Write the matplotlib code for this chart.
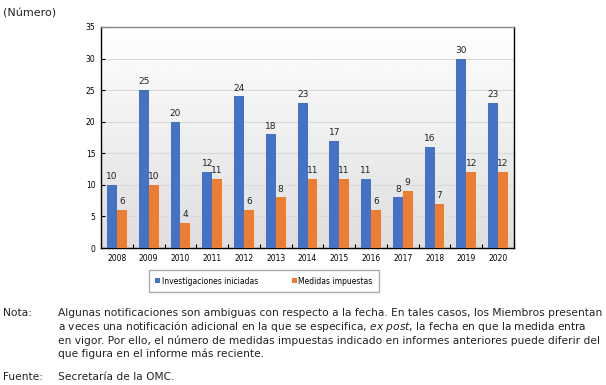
import numpy as np
import matplotlib
matplotlib.use("Agg")
import matplotlib.pyplot as plt

years = ["2008", "2009", "2010", "2011", "2012", "2013", "2014",
         "2015", "2016", "2017", "2018", "2019", "2020"]
investigaciones = [10, 25, 20, 12, 24, 18, 23, 17, 11, 8, 16, 30, 23]
medidas = [6, 10, 4, 11, 6, 8, 11, 11, 6, 9, 7, 12, 12]

blue = "#4472C4"
orange = "#ED7D31"

plt.rcParams["font.family"] = "DejaVu Sans"

fig = plt.figure(figsize=(6.06, 3.85), dpi=100)
ax = fig.add_axes([101 / 606, 1 - 248 / 385, 413 / 606, 221 / 385])

# fondo degradado
grad = np.linspace(1.0, 0.87, 256).reshape(-1, 1)
ax.imshow(grad, cmap="gray", vmin=0, vmax=1, aspect="auto",
          extent=[-0.5, len(years) - 0.5, 0, 35], zorder=0)

x = np.arange(len(years))
w = 0.31
b1 = ax.bar(x - w / 2, investigaciones, w, color=blue, zorder=3,
            label="Investigaciones iniciadas")
b2 = ax.bar(x + w / 2, medidas, w, color=orange, zorder=3,
            label="Medidas impuestas")

for rect, v in zip(b1, investigaciones):
    ax.text(rect.get_x() + rect.get_width() / 2, v + 0.6, str(v),
            ha="center", va="bottom", fontsize=6.5, color="#222222")
for rect, v in zip(b2, medidas):
    ax.text(rect.get_x() + rect.get_width() / 2, v + 0.6, str(v),
            ha="center", va="bottom", fontsize=6.5, color="#222222")

ax.set_xlim(-0.5, len(years) - 0.5)
ax.set_ylim(0, 35)
ax.set_yticks(range(0, 36, 5))
ax.set_xticks(np.arange(-0.5, len(years), 1), minor=False)
ax.set_xticklabels([])
ax.set_xticks(x, minor=True)
ax.set_xticklabels(years, minor=True)
ax.tick_params(axis="x", which="minor", length=0, labelsize=5.5, pad=4)
ax.tick_params(axis="x", which="major", length=3, direction="in")
ax.tick_params(axis="y", labelsize=5.5, length=3, direction="in", pad=4)
ax.yaxis.grid(True, color="#d9d9d9", linewidth=0.8, zorder=1)
ax.set_axisbelow(True)
for s in ax.spines.values():
    s.set_color("black")
    s.set_linewidth(1.0)
ax.spines["top"].set_color("#888888")

leg = fig.legend(handles=[b1, b2], loc="center",
                 bbox_to_anchor=(264 / 606, 1 - 281 / 385), ncol=2,
                 fontsize=5.5, frameon=True, fancybox=False,
                 handlelength=0.6, handleheight=0.6, handletextpad=0.2,
                 columnspacing=4.5, borderpad=0.9)
leg.get_frame().set_edgecolor("#999999")
leg.get_frame().set_linewidth(1.0)

fig.text(3 / 606, 1 - 8 / 385, "(Número)", fontsize=8, va="top", color="#222222")

note_lines = [
    "Algunas notificaciones son ambiguas con respecto a la fecha. En tales casos, los Miembros presentan",
    "a veces una notificación adicional en la que se especifica, $\\it{ex\\ post}$, la fecha en que la medida entra",
    "en vigor. Por ello, el número de medidas impuestas indicado en informes anteriores puede diferir del",
    "que figura en el informe más reciente.",
]
fs = 7.7
fig.text(3 / 606, 1 - 313 / 385, "Nota:", fontsize=fs, va="center", color="#222222")
for i, line in enumerate(note_lines):
    fig.text(58 / 606, 1 - (313 + i * 13.7) / 385, line, fontsize=fs,
             va="center", color="#222222")
fig.text(3 / 606, 1 - 377 / 385, "Fuente:", fontsize=fs, va="center", color="#222222")
fig.text(58 / 606, 1 - 377 / 385, "Secretaría de la OMC.", fontsize=fs,
         va="center", color="#222222")

fig.savefig("out.png", dpi=100)
